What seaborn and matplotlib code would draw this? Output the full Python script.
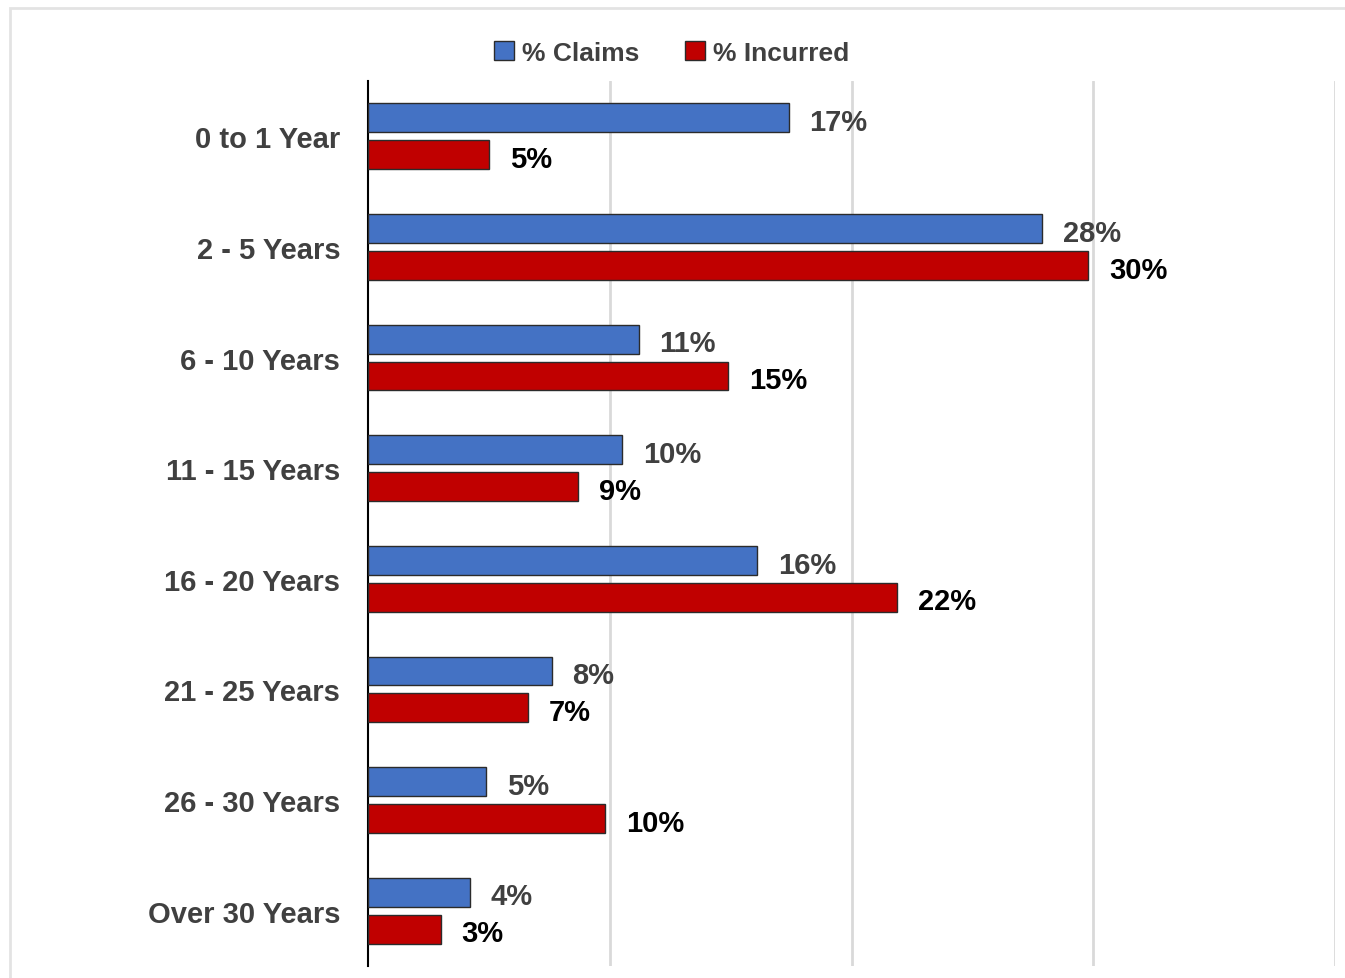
import matplotlib
matplotlib.use("Agg")
import matplotlib.pyplot as plt
from matplotlib.patches import Patch, Rectangle
import seaborn as sns
import pandas as pd

# Share of claims and incurred cost by length of service
categories = ["0 to 1 Year", "2 - 5 Years", "6 - 10 Years", "11 - 15 Years",
              "16 - 20 Years", "21 - 25 Years", "26 - 30 Years", "Over 30 Years"]
pct_claims = [17.4, 27.9, 11.2, 10.5, 16.1, 7.6, 4.9, 4.2]
pct_incurred = [5.0, 29.8, 14.9, 8.7, 21.9, 6.6, 9.8, 3.0]
series_names = ["% Claims", "% Incurred"]

colors = {"% Claims": "#4472C4", "% Incurred": "#C00000"}
label_colors = {"% Claims": "#404040", "% Incurred": "#000000"}

df = pd.DataFrame({
    "Category": categories * 2,
    "Value": pct_claims + pct_incurred,
    "Series": [series_names[0]] * len(categories) + [series_names[1]] * len(categories),
})

sns.set_theme(style="white")
plt.rcParams["font.family"] = ["Liberation Sans", "DejaVu Sans"]
plt.rcParams["font.weight"] = "bold"

FS = 21

fig = plt.figure(figsize=(13.45, 9.79), dpi=100)
ax = fig.add_axes([368 / 1345, 1 - 967 / 979, (1335 - 368) / 1345, (967 - 82) / 979])

sns.barplot(data=df, y="Category", x="Value", hue="Series", order=categories,
            hue_order=series_names, palette=colors, saturation=1, orient="h",
            width=0.667, gap=0.22, edgecolor="#2B2B2B", linewidth=1.0,
            legend=False, ax=ax, zorder=3)

for cont, name in zip(ax.containers, series_names):
    anns = ax.bar_label(cont, fmt=lambda v: f"{v:.0f}%", padding=15,
                        color=label_colors[name], fontsize=FS, fontweight="bold")
    for a in anns:
        a.xyann = (15, -3)

ax.set_xlim(0, 40)
ax.set_ylim(len(categories) - 0.5, -0.5)
ax.set_xticks([10, 20, 30, 40])
ax.set_xticklabels([])
ax.xaxis.grid(True, color="#D9D9D9", linewidth=2, zorder=0)
ax.set_axisbelow(True)
ax.set_xlabel("")
ax.set_ylabel("")
ax.tick_params(axis="y", length=0, pad=20, labelsize=FS, labelcolor="#404040")
ax.tick_params(axis="x", length=0)
for lbl in ax.get_yticklabels():
    lbl.set_fontweight("bold")
for side in ["top", "right", "bottom"]:
    ax.spines[side].set_visible(False)
ax.spines["left"].set_color("#000000")
ax.spines["left"].set_linewidth(1.5)

handles = [Patch(facecolor=colors[n], edgecolor="#2B2B2B", linewidth=1.0) for n in series_names]
fig.legend(handles, series_names, loc="center", bbox_to_anchor=(0.4993, 1 - 54 / 979),
           ncol=2, frameon=False, handlelength=0.75, handleheight=0.75,
           handletextpad=0.3, columnspacing=1.75,
           prop={"size": 19, "weight": "bold"}, labelcolor="#404040")

# light frame around the chart area
fig.patches.append(Rectangle((10 / 1345, -0.1), 1.0, 1 - 9 / 979 + 0.1,
                             transform=fig.transFigure, fill=False,
                             edgecolor="#E3E3E3", linewidth=2, clip_on=False))

fig.savefig("out.png", dpi=100)
